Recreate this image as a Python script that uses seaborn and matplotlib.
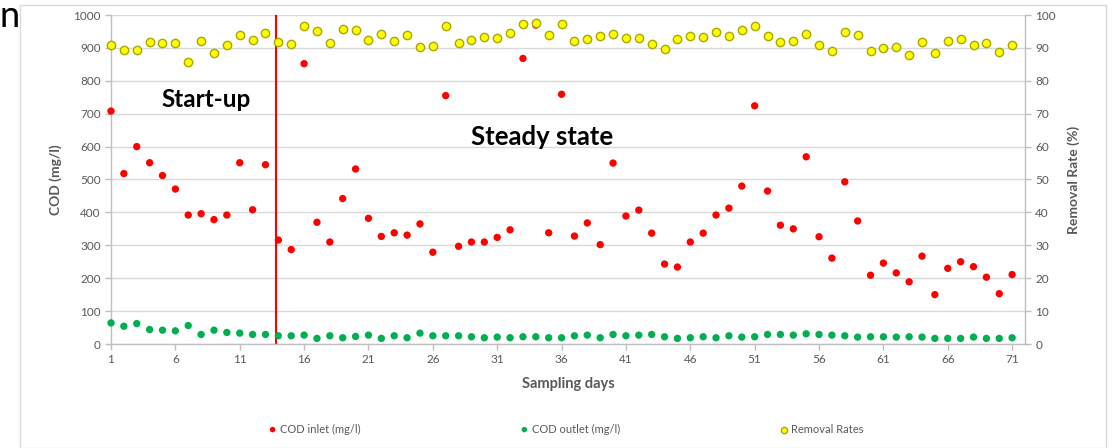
import numpy as np
import pandas as pd
import seaborn as sns
import matplotlib.pyplot as plt
from matplotlib.patches import Rectangle

# Data
days = list(range(1, 72))
cod_inlet = [708, 518, 600, 551, 512, 471, 392, 396, 378, 392,
             551, 408, 545, 316, 287, 852, 370, 310, 442, 532,
             382, 327, 338, 331, 365, 279, 755, 297, 310, 310,
             324, 347, 868, 969, 338, 759, 328, 368, 302, 550,
             389, 407, 337, 243, 234, 310, 337, 392, 413, 480,
             724, 465, 361, 350, 569, 326, 261, 493, 374, 209,
             246, 216, 189, 267, 150, 230, 250, 235, 203, 153, 211]
cod_outlet = [64, 54, 62, 44, 42, 40, 56, 29, 42, 35,
              33, 29, 29, 25, 25, 27, 17, 25, 19, 23,
              27, 17, 25, 19, 33, 25, 25, 25, 22, 19,
              21, 19, 22, 22, 19, 19, 25, 27, 19, 29,
              25, 27, 29, 22, 17, 19, 22, 19, 25, 21,
              22, 29, 29, 27, 31, 29, 27, 25, 21, 22,
              22, 21, 22, 21, 17, 17, 17, 21, 17, 17, 19]
removal = [90.9, 89.4, 89.4, 91.8, 91.6, 91.4, 85.6, 92.2, 88.4, 90.9,
           93.9, 92.4, 94.5, 91.8, 91.3, 96.8, 95.1, 91.6, 95.6, 95.4,
           92.4, 94.2, 92.0, 93.9, 90.4, 90.7, 96.6, 91.4, 92.3, 93.3,
           93.1, 94.5, 97.4, 97.7, 94.0, 97.4, 92.0, 92.6, 93.5, 94.3,
           93.1, 93.1, 91.1, 89.8, 92.6, 93.5, 93.3, 94.9, 93.5, 95.5,
           96.8, 93.5, 91.7, 92.1, 94.3, 90.9, 89.0, 94.7, 94.0, 89.0,
           90.0, 90.2, 87.7, 91.8, 88.3, 92.0, 92.8, 91.0, 91.6, 88.7, 91.0]
x_ticks = list(range(1, 72, 5))
split_day = 13.8

df = pd.DataFrame({'day': days, 'inlet': cod_inlet,
                   'outlet': cod_outlet, 'removal': removal})

sns.set_theme(style='white')
plt.rcParams['font.family'] = ['Lato', 'DejaVu Sans']
grey = '#595959'

fig = plt.figure(figsize=(11.12, 4.48), dpi=100)
ax = fig.add_axes([111 / 1112, 104 / 448, (1025 - 111) / 1112, (344 - 15) / 448])
ax2 = ax.twinx()

# outer chart frame and stray letter from the page
fig.patches.append(Rectangle((20 / 1112, 0), (1106 - 20) / 1112, 443 / 448,
                             transform=fig.transFigure, fill=False,
                             edgecolor='#d9d9d9', linewidth=1))
fig.text(0.0, 1.0, 'n', fontsize=26, color='black', va='top', ha='left')

sns.scatterplot(data=df, x='day', y='inlet', ax=ax, color='#ff0000',
                s=28, edgecolor='none', label='COD inlet (mg/l)', legend=False,
                zorder=3, clip_on=False)
sns.scatterplot(data=df, x='day', y='outlet', ax=ax, color='#00b050',
                s=28, edgecolor='none', label='COD outlet (mg/l)', legend=False,
                zorder=3, clip_on=False)
sns.scatterplot(data=df, x='day', y='removal', ax=ax2, color='#ffff00',
                s=36, edgecolor='#a8a800', linewidth=1, label='Removal Rates',
                legend=False, zorder=3, clip_on=False)

ax.axvline(split_day, color='#ff0000', linewidth=1.5, zorder=2)

ax.set_xlim(1, 72)
ax.set_ylim(0, 1000)
ax2.set_ylim(0, 100)
ax.set_yticks(range(0, 1001, 100))
ax2.set_yticks(range(0, 101, 10))
ax.set_xticks(x_ticks)
ax.grid(axis='y', color='#d9d9d9', linewidth=1)
ax.set_axisbelow(True)

for a in (ax, ax2):
    for side in ['top', 'right', 'left', 'bottom']:
        a.spines[side].set_visible(False)
ax.spines['left'].set_visible(True)
ax.spines['bottom'].set_visible(True)
ax2.spines['right'].set_visible(True)
for sp in [ax.spines['left'], ax.spines['bottom'], ax2.spines['right']]:
    sp.set_color('#bfbfbf')
    sp.set_linewidth(1)

ax.tick_params(axis='both', colors='#bfbfbf', labelcolor=grey, labelsize=8.5,
               length=4, width=1, left=True, bottom=True, direction='out')
ax2.tick_params(axis='y', colors='#bfbfbf', labelcolor=grey, labelsize=8.5,
                length=4, width=1, right=True, direction='out')

ax.set_xlabel('Sampling days', fontsize=10.5, fontweight='bold', color=grey, labelpad=8)
ax.set_ylabel('COD (mg/l)', fontsize=10, fontweight='bold', color=grey, labelpad=8)
ax2.set_ylabel('Removal Rate (%)', fontsize=10, fontweight='bold', color=grey, labelpad=8)

ax.text(8.4, 742, 'Start-up', fontsize=17.5, fontweight='bold', color='black',
        ha='center', va='center')
ax.text(34.5, 629, 'Steady state', fontsize=18.5, fontweight='bold', color='black',
        ha='center', va='center')

h1, l1 = ax.get_legend_handles_labels()
h2, l2 = ax2.get_legend_handles_labels()
fig.legend(h1 + h2, l1 + l2, loc='center', bbox_to_anchor=(566 / 1112, 1 - 429 / 448),
           ncol=3, frameon=False, fontsize=8, labelcolor=grey,
           handletextpad=0.3, handlelength=0.8, columnspacing=14.3, markerscale=0.75)

fig.savefig('out.png', dpi=100)
